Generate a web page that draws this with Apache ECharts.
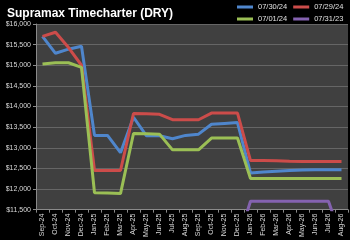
<!DOCTYPE html>
<html>
<head>
<meta charset="utf-8">
<script src="https://cdn.jsdelivr.net/npm/echarts@6/dist/echarts.min.js"></script>
<style>
html,body{margin:0;padding:0;background:#000;}
#c{width:350px;height:240px;}
</style>
</head>
<body>
<div id="c"></div>
<script>
const categories = ['Sep-24','Oct-24','Nov-24','Dec-24','Jan-25','Feb-25','Mar-25','Apr-25','May-25','Jun-25','Jul-25','Aug-25','Sep-25','Oct-25','Nov-25','Dec-25','Jan-26','Feb-26','Mar-26','Apr-26','May-26','Jun-26','Jul-26','Aug-26'];
const seriesNames = ['07/30/24','07/29/24','07/01/24','07/31/23'];
const s0730_24 = [15700,15290,15390,15460,13300,13300,12880,13740,13290,13290,13220,13300,13330,13570,13590,13610,12390,12410,12430,12450,12460,12470,12470,12470];
const s0729_24 = [15700,15800,15430,15000,12450,12450,12450,13830,13825,13810,13680,13680,13680,13840,13840,13840,12690,12690,12685,12675,12670,12665,12665,12665];
const s0701_24 = [15030,15060,15060,14950,11910,11905,11890,13345,13340,13330,12950,12950,12950,13235,13235,13235,12255,12255,12255,12255,12255,12255,12255,12255];
const s0731_23 = [null,null,null,null,null,null,null,null,null,null,null,null,null,null,null,10700,11705,11705,11705,11705,11705,11705,11705,10800];
const yMin = 11500, yMax = 16000, yStep = 500;
const colors = ['#4f86cc','#cc4c4a','#9bbf55','#8462b0'];

const chart = echarts.init(document.getElementById('c'), null, {renderer:'canvas'});
const dataSets = [s0730_24, s0729_24, s0701_24, s0731_23];
function money(v){ return '$' + String(v).replace(/\B(?=(\d{3})+(?!\d))/g, ','); }
const legendText = {color:'#e0e0e0', fontSize:7.5, fontFamily:'Liberation Sans'};
chart.setOption({
  backgroundColor:'#000',
  animation:false,
  title:{text:'Supramax Timecharter (DRY)', left:2, top:3, textStyle:{color:'#fff', fontSize:12, fontWeight:'bold', fontFamily:'Liberation Sans'}},
  legend:[
    {data:[seriesNames[0],seriesNames[1]], orient:'horizontal', left:237, top:3, width:120, icon:'rect', itemWidth:16, itemHeight:3, itemGap:6, padding:0, textStyle:legendText},
    {data:[seriesNames[2],seriesNames[3]], orient:'horizontal', left:237, top:15, width:120, icon:'rect', itemWidth:16, itemHeight:3, itemGap:6, padding:0, textStyle:legendText}
  ],
  grid:{left:36, right:2, top:24, bottom:30, show:true, backgroundColor:'#404040', borderWidth:0},
  xAxis:{type:'category', data:categories, boundaryGap:true,
    axisLine:{lineStyle:{color:'#8a8a8a', width:1}},
    axisTick:{show:true, length:3, lineStyle:{color:'#8a8a8a'}},
    axisLabel:{rotate:90, interval:0, margin:4, color:'#d9d9d9', fontSize:7, fontFamily:'Liberation Sans'}},
  yAxis:{type:'value', min:yMin, max:yMax, interval:yStep,
    axisLine:{show:true, lineStyle:{color:'#8a8a8a'}},
    axisTick:{show:true, length:3, lineStyle:{color:'#8a8a8a'}},
    splitLine:{lineStyle:{color:'#666', width:1}},
    axisLabel:{color:'#d9d9d9', fontSize:7, margin:5, fontFamily:'Liberation Sans', formatter:money}},
  series: seriesNames.map((n,i)=>({
    name:n, type:'line', data:dataSets[i], symbol:'none', clip:true, connectNulls:false,
    color:colors[i], lineStyle:{width:3, color:colors[i]}
  }))
});
</script>
</body>
</html>
